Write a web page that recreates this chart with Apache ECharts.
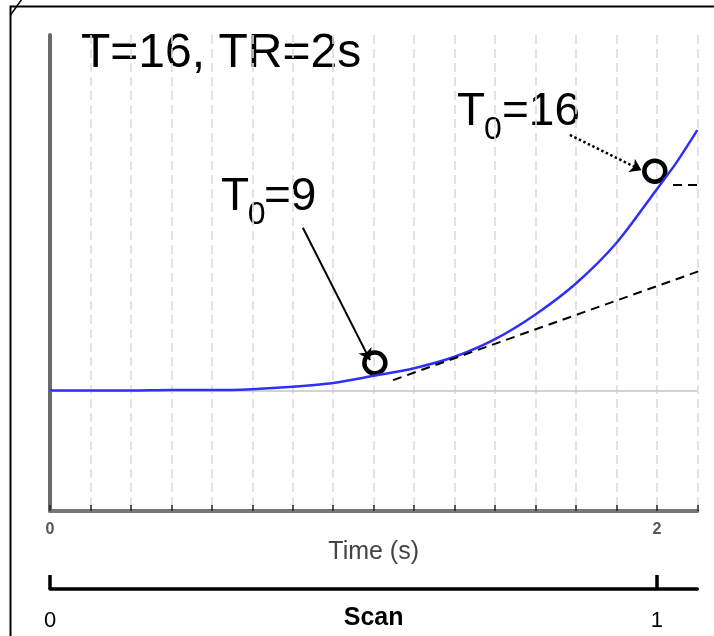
<!DOCTYPE html>
<html><head><meta charset="utf-8">
<script src="https://cdn.jsdelivr.net/npm/echarts@6/dist/echarts.min.js"></script>
<style>html,body{margin:0;padding:0;background:#fff}#c{width:714px;height:636px}</style>
</head><body><div id="c"></div>
<script>
// x in slice-tick units (16 slices per TR), y in arbitrary signal units (0..100)
const timeTickPos = [0, 15];
const timeTickLabels = ['0', '2'];
const scanTickPos = [0, 1];
const scanTickLabels = ['0', '1'];
const curveX = [0, 1, 2, 3, 4, 5, 6, 7, 8, 9, 10, 11, 12, 13, 14, 15, 15.5, 16];
const curveY = [25.3, 25.3, 25.3, 25.4, 25.4, 25.6, 26.1, 26.9, 28.4, 30.0, 32.4, 36.1, 41.3, 47.8, 56.3, 67.6, 73.4, 80.0];
const baselineY = 25.2;
const onsetMarkers = [[8.03, 31.1], [14.95, 71.4]];
const tangentLine = [[8.48, 27.5], [16.41, 51.5]];
const plateauLine = [[15.40, 68.5], [16.41, 68.5]];
const arrowSolid = [[6.25, 59.5], [7.91, 31.7]];
const arrowDotted = [[12.85, 79.0], [14.62, 71.6]];
const titleText = 'T=16, TR=2s';
const label9 = ['T', '0', '=9'];
const label16 = ['T', '0', '=16'];

const FONT = '"Liberation Sans", Arial, Helvetica, sans-serif';
const chart = echarts.init(document.getElementById('c'), null, {renderer: 'canvas'});

function txt(s, x, y, size) {
  return {type: 'text', x: x, y: y, style: {text: s, font: size + 'px ' + FONT, fill: '#000', lineHeight: size}};
}

const option = {
  animation: false,
  backgroundColor: '#fff',
  grid: [
    {left: 50, right: 16.7, top: 35, bottom: 125, outerBoundsMode: 'none', containLabel: false},
    {left: 50, right: 16.7, top: 575, bottom: 47, outerBoundsMode: 'none', containLabel: false}
  ],
  xAxis: [
    {
      type: 'value', gridIndex: 0, min: 0, max: 16, interval: 1,
      name: 'Time (s)', nameLocation: 'middle', nameGap: 29, nameMoveOverlap: false,
      nameTextStyle: {fontSize: 25, color: '#444', fontFamily: FONT},
      axisLine: {show: true, lineStyle: {color: '#777', width: 4}},
      axisTick: {show: true, inside: true, length: 6, lineStyle: {color: '#222', width: 1.5}},
      axisLabel: {
        margin: 11, fontSize: 16, fontWeight: 'bold', color: '#555', fontFamily: FONT,
        formatter: v => { const i = timeTickPos.indexOf(v); return i >= 0 ? timeTickLabels[i] : ''; }
      },
      splitLine: {show: true, lineStyle: {color: '#dcdcdc', width: 1.6, type: [9, 5]}}
    },
    {
      type: 'value', gridIndex: 1, min: 0, max: 16 / 15, interval: 1,
      name: 'Scan', nameLocation: 'middle', nameGap: 17, nameMoveOverlap: false,
      nameTextStyle: {fontSize: 25, fontWeight: 'bold', color: '#000', fontFamily: FONT},
      axisLine: {show: true, lineStyle: {color: '#000', width: 3.5}},
      axisTick: {show: true, inside: true, length: 14, customValues: scanTickPos, lineStyle: {color: '#000', width: 3.5}},
      axisLabel: {
        margin: 21, fontSize: 22, color: '#000', fontFamily: FONT, customValues: scanTickPos,
        formatter: v => { const i = scanTickPos.indexOf(v); return i >= 0 ? scanTickLabels[i] : ''; }
      },
      splitLine: {show: false}
    }
  ],
  yAxis: [
    {
      type: 'value', gridIndex: 0, min: 0, max: 100,
      axisLine: {show: true, lineStyle: {color: '#6a6a6a', width: 4}},
      axisTick: {show: false}, axisLabel: {show: false}, splitLine: {show: false}
    },
    {type: 'value', gridIndex: 1, min: 0, max: 1, show: false}
  ],
  series: [
    {
      type: 'line', xAxisIndex: 0, yAxisIndex: 0, symbol: 'none', silent: true,
      data: [[0, baselineY], [16, baselineY]],
      lineStyle: {color: '#c4c4c4', width: 1.5}
    },
    {
      type: 'line', xAxisIndex: 0, yAxisIndex: 0, symbol: 'none', smooth: 0.3,
      data: curveX.map((x, i) => [x, curveY[i]]),
      lineStyle: {color: '#3030f5', width: 2.5}
    },
    {
      type: 'line', xAxisIndex: 0, yAxisIndex: 0, symbol: 'none', clip: false,
      data: tangentLine, lineStyle: {color: '#000', width: 2, type: [9, 6]}
    },
    {
      type: 'line', xAxisIndex: 0, yAxisIndex: 0, symbol: 'none', clip: false,
      data: plateauLine, lineStyle: {color: '#000', width: 2, type: [9, 6]}
    },
    {
      type: 'scatter', xAxisIndex: 0, yAxisIndex: 0, symbol: 'circle', symbolSize: 21,
      data: onsetMarkers,
      itemStyle: {color: 'rgba(0,0,0,0)', borderColor: '#000', borderWidth: 4.5, opacity: 1}
    },
    {
      type: 'lines', coordinateSystem: 'cartesian2d', xAxisIndex: 0, yAxisIndex: 0,
      symbol: ['none', 'arrow'], symbolSize: 11,
      data: [{coords: arrowSolid}],
      lineStyle: {color: '#000', width: 2, opacity: 1, curveness: 0}
    },
    {
      type: 'lines', coordinateSystem: 'cartesian2d', xAxisIndex: 0, yAxisIndex: 0,
      symbol: ['none', 'arrow'], symbolSize: 11,
      data: [{coords: arrowDotted}],
      lineStyle: {color: '#000', width: 2.5, opacity: 1, curveness: 0, type: [2.5, 2.5]}
    },
    {type: 'line', xAxisIndex: 1, yAxisIndex: 1, data: []}
  ],
  graphic: [
    {type: 'polyline', shape: {points: [[714, 6.5], [10.5, 6.5], [10.5, 637]]}, style: {stroke: '#000', lineWidth: 2, fill: null}},
    {type: 'line', shape: {x1: 22, y1: -1, x2: 10.5, y2: 15}, style: {stroke: '#000', lineWidth: 1.5}},
    txt(titleText, 81, 30, 48),
    txt(label9[0], 221, 174.4, 46),
    txt(label9[1], 247.7, 199.1, 32),
    txt(label9[2], 264, 174.4, 46),
    txt(label16[0], 457, 89.4, 46),
    txt(label16[1], 484, 114.1, 32),
    txt(label16[2], 502, 89.4, 46)
  ]
};
chart.setOption(option);
</script>
</body></html>
